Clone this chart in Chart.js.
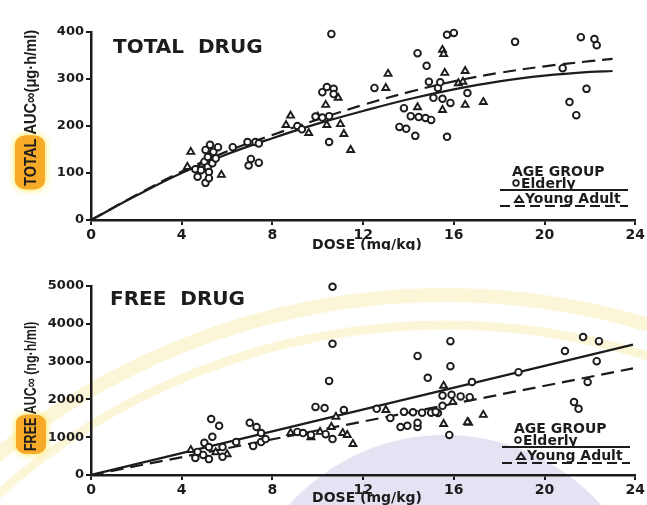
<!DOCTYPE html>
<html>
<head>
<meta charset="utf-8">
<title>Total and free drug AUC vs dose</title>
<script src="https://cdn.jsdelivr.net/npm/chart.js@4.4.0/dist/chart.umd.min.js"></script>
<style>
  html, body { margin: 0; padding: 0; background: #fff; }
  canvas { display: block; }
</style>
</head>
<body>
<canvas id="totalChart" width="647" height="250"></canvas>
<canvas id="freeChart" width="647" height="255"></canvas>
<script>
// ---- axis ticks ----
const doseTicks = [0, 4, 8, 12, 16, 20, 24];
const totalTicks = [0, 100, 200, 300, 400];
const freeTicks = [0, 1000, 2000, 3000, 4000, 5000];

// ---- TOTAL DRUG: observed points (dose mg/kg, AUC ug.h/ml) ----
const totalElderlyDose = [4.6, 4.7, 4.85, 5.0, 5.05, 5.05, 5.15, 5.15, 5.2, 5.2, 5.25, 5.35, 5.4, 5.5, 5.6,
  6.25, 6.9, 7.25, 7.4, 7.05, 7.4, 6.95,
  9.1, 9.3, 9.9, 10.2, 10.5, 10.2, 10.4, 10.7, 10.7, 10.6, 10.5,
  12.5, 13.6, 13.9, 13.8, 14.1, 14.45, 14.75, 15.0, 14.3, 14.4, 14.8, 14.9, 15.3, 15.1, 15.5, 15.85,
  15.7, 16.0, 15.7, 16.6, 15.4, 18.7, 21.6, 22.2, 22.3, 20.8, 21.85, 21.1, 21.4];
const totalElderlyAuc = [108, 92, 106, 124, 149, 79, 134, 113, 102, 89, 160, 121, 145, 131, 155,
  155, 166, 166, 163, 130, 122, 116,
  200, 193, 220, 218, 221, 272, 283, 279, 268, 396, 166,
  281, 198, 194, 238, 221, 219, 217, 213, 179, 355, 328, 294, 281, 260, 258, 249,
  394, 398, 177, 270, 293, 379, 389, 385, 372, 323, 279, 251, 223];

const totalYoungDose = [4.4, 4.25, 5.75, 4.9, 5.3,
  8.8, 8.6, 9.6, 10.35, 10.9, 10.4, 11.0, 11.15, 11.45, 10.0,
  13.1, 13.0, 14.4, 15.5, 15.55, 15.6, 16.5, 15.5, 16.5, 17.3, 16.2, 16.4];
const totalYoungAuc = [145, 113, 96, 118, 140,
  222, 202, 185, 245, 260, 202, 204, 183, 149, 220,
  311, 281, 240, 362, 353, 313, 317, 234, 245, 251, 291, 294];

// fitted curves
const totalFitDose = [0, 2, 4, 6, 8, 10, 12, 14, 16, 18, 20, 22, 23];
const totalFitElderly = [0, 52, 100, 140, 174, 205, 232, 257, 278, 295, 307, 315, 317];
const totalFitYoung = [0, 53, 103, 146, 181, 214, 245, 272, 295, 313, 327, 338, 343];

// ---- FREE DRUG: observed points (dose mg/kg, AUC ng.h/ml) ----
const freeElderlyDose = [5.3, 5.65, 5.35, 5.0, 5.2, 4.7, 4.95, 4.6, 5.2, 5.8, 5.8,
  7.0, 7.3, 7.5, 7.15, 6.4, 7.5, 7.7, 9.1, 9.35,
  9.9, 10.3, 10.65, 10.65, 10.5, 11.15, 9.7, 10.35, 10.65,
  12.6, 13.2, 13.8, 14.2, 14.6, 15.0, 15.3, 13.65, 13.95, 14.4, 14.4, 15.8,
  14.4, 15.85, 15.85, 14.85, 16.8, 15.5, 15.9, 16.3, 16.7, 15.5, 15.2,
  18.85, 20.9, 21.7, 22.4, 22.3, 21.9, 21.3, 21.5];
const freeElderlyAuc = [1480, 1300, 1010, 850, 740, 610, 530, 450, 420, 480, 740,
  1380, 1270, 1110, 770, 870, 870, 950, 1140, 1110,
  1800, 1770, 4980, 3470, 2490, 1720, 1060, 1080, 950,
  1750, 1510, 1670, 1660, 1650, 1650, 1640, 1270, 1300, 1270, 1380, 1060,
  3150, 3540, 2880, 2570, 2460, 2100, 2120, 2080, 2060, 1830, 1670,
  2720, 3280, 3650, 3540, 3010, 2460, 1930, 1750];

const freeYoungDose = [4.4, 5.5, 6.0, 8.8, 9.7, 10.1, 10.6, 10.8, 11.1, 11.3, 11.55,
  13.0, 15.55, 16.65, 15.55, 15.95, 16.6, 17.3];
const freeYoungAuc = [660, 600, 550, 1110, 1000, 1140, 1270, 1540, 1110, 1060, 820,
  1720, 1350, 1380, 2360, 1930, 1400, 1590];

const freeFitDose = [0, 23.9];
const freeFitElderly = [0, 3450];
const freeFitYoung = [0, 2820];

// ---- helpers ----
const INK = '#1c1c1c';
const pts = (xs, ys) => xs.map((x, i) => ({ x, y: ys[i] }));

const decorPlugin = {
  id: 'decor',
  beforeDraw(chart, args, o) {
    if (!o.watermark) return;
    // faint logo watermark behind the lower panel
    const ctx = chart.ctx;
    ctx.save();
    ctx.fillStyle = 'rgba(200,200,232,0.5)';
    ctx.beginPath();
    ctx.arc(445, 394, 209, 0, Math.PI * 2);
    ctx.fill();
    ctx.strokeStyle = 'rgba(248,234,170,0.45)';
    ctx.lineWidth = 14;
    ctx.beginPath();
    ctx.arc(445, 750, 705, Math.PI, Math.PI * 2);
    ctx.stroke();
    ctx.lineWidth = 9;
    ctx.beginPath();
    ctx.arc(445, 750, 675, Math.PI, Math.PI * 2);
    ctx.stroke();
    ctx.restore();
  },
  afterDraw(chart, args, o) {
    const ctx = chart.ctx;
    ctx.save();
    ctx.fillStyle = INK;
    ctx.textBaseline = 'alphabetic';

    // panel title
    ctx.font = 'bold 20px "DejaVu Sans"';
    ctx.textAlign = 'left';
    ctx.fillText(o.title, o.titleX, o.titleY);

    // x axis title
    ctx.font = 'bold 14px "DejaVu Sans"';
    ctx.textAlign = 'center';
    ctx.fillText('DOSE (mg/kg)', 367, o.doseY);

    // y axis title, condensed, with highlighted first word
    ctx.save();
    ctx.translate(o.yTitleX, o.yTitleBottom);
    ctx.rotate(-Math.PI / 2);
    ctx.scale(o.yTitleSquash, 1);
    ctx.font = 'bold ' + o.yTitleSize + 'px "Liberation Sans"';
    ctx.textAlign = 'left';
    ctx.textBaseline = 'middle';
    const w = ctx.measureText(o.yWord).width;
    ctx.save();
    ctx.shadowColor = '#ffe53a';
    ctx.shadowBlur = 7;
    ctx.fillStyle = '#f7a928';
    ctx.beginPath();
    ctx.roundRect(-4, -15, w + 8, 30, 11);
    ctx.fill();
    ctx.restore();
    ctx.fillText(o.yWord + ' ' + o.yRest, 0, 1);
    ctx.restore();

    // legend
    const L = o.legend;
    ctx.font = 'bold 14px "DejaVu Sans"';
    ctx.textAlign = 'left';
    ctx.fillText('AGE GROUP', L.x + 12, L.y);
    ctx.lineWidth = 1.8;
    ctx.strokeStyle = INK;
    ctx.beginPath();
    ctx.arc(L.x + 16, L.y + 7, 2.8, 0, Math.PI * 2);
    ctx.stroke();
    ctx.fillText('Elderly', L.x + 21, L.y + 12);
    ctx.lineWidth = 2;
    ctx.beginPath();
    ctx.moveTo(L.x, L.y + 14);
    ctx.lineTo(L.x + 128, L.y + 14);
    ctx.stroke();
    ctx.beginPath();
    ctx.moveTo(L.x + 19, L.y + 20);
    ctx.lineTo(L.x + 23, L.y + 26);
    ctx.lineTo(L.x + 15, L.y + 26);
    ctx.closePath();
    ctx.stroke();
    ctx.fillText('Young Adult', L.x + 25, L.y + 27);
    ctx.setLineDash([10, 5]);
    ctx.beginPath();
    ctx.moveTo(L.x, L.y + 30);
    ctx.lineTo(L.x + 128, L.y + 30);
    ctx.stroke();
    ctx.restore();
  }
};

function fixedTicks(values) {
  return (scale) => { scale.ticks = values.map((v) => ({ value: v })); };
}

function makeChart(canvasId, cfg) {
  return new Chart(document.getElementById(canvasId), {
    type: 'scatter',
    data: {
      datasets: [
        { label: 'Elderly', data: pts(cfg.eDose, cfg.eAuc), pointStyle: 'circle', pointRadius: 3.3,
          pointBorderWidth: 1.9, borderColor: INK, backgroundColor: '#fff', clip: false },
        { label: 'Young Adult', data: pts(cfg.yDose, cfg.yAuc), pointStyle: 'triangle', pointRadius: 4,
          pointBorderWidth: 1.9, borderColor: INK, backgroundColor: '#fff', clip: false },
        { label: 'Elderly fit', data: pts(cfg.fitDose, cfg.fitE), showLine: true, pointRadius: 0,
          borderColor: INK, borderWidth: 2.2, tension: cfg.tension, fill: false },
        { label: 'Young fit', data: pts(cfg.fitDose, cfg.fitY), showLine: true, pointRadius: 0,
          borderColor: INK, borderWidth: 2.2, borderDash: [13, 7], tension: cfg.tension, fill: false },
      ],
    },
    options: {
      responsive: false,
      animation: false,
      layout: { padding: { top: cfg.padTop, right: 11, left: 0, bottom: 0 } },
      plugins: {
        legend: { display: false },
        tooltip: { enabled: false },
        decor: cfg.decor,
      },
      scales: {
        x: {
          type: 'linear', min: 0, max: 24,
          afterBuildTicks: fixedTicks(doseTicks),
          afterFit: (s) => { s.height = 30; },
          border: { color: INK, width: 2.5 },
          grid: { drawOnChartArea: false, drawTicks: true, tickLength: 5, color: INK, lineWidth: 2 },
          ticks: { color: INK, padding: 2, callback: (v) => String(v),
                   font: { family: 'DejaVu Sans', weight: 'bold', size: 14 } },
        },
        y: {
          type: 'linear', min: 0, max: cfg.yMax,
          afterBuildTicks: fixedTicks(cfg.yTicks),
          afterFit: (s) => { s.width = 91; },
          border: { color: INK, width: 2.5 },
          grid: { drawOnChartArea: false, drawTicks: true, tickLength: 5, color: INK, lineWidth: 2 },
          ticks: { color: INK, padding: 2, callback: (v) => String(v),
                   font: { family: 'DejaVu Sans', weight: 'bold', size: 13 } },
        },
      },
    },
    plugins: [decorPlugin],
  });
}

makeChart('totalChart', {
  eDose: totalElderlyDose, eAuc: totalElderlyAuc, yDose: totalYoungDose, yAuc: totalYoungAuc,
  fitDose: totalFitDose, fitE: totalFitElderly, fitY: totalFitYoung, tension: 0.4,
  yMax: 400, yTicks: totalTicks, padTop: 32,
  decor: {
    title: 'TOTAL  DRUG', titleX: 113, titleY: 53, doseY: 249,
    yTitleX: 30, yTitleBottom: 186, yTitleSize: 17, yTitleSquash: 0.86,
    yWord: 'TOTAL', yRest: 'AUC\u221E(\u03BCg\u00B7h/ml)',
    legend: { x: 500, y: 176 },
  },
});

makeChart('freeChart', {
  eDose: freeElderlyDose, eAuc: freeElderlyAuc, yDose: freeYoungDose, yAuc: freeYoungAuc,
  fitDose: freeFitDose, fitE: freeFitElderly, fitY: freeFitYoung, tension: 0,
  yMax: 5000, yTicks: freeTicks, padTop: 36,
  decor: {
    title: 'FREE  DRUG', titleX: 110, titleY: 55, doseY: 252, watermark: true,
    yTitleX: 31, yTitleBottom: 201, yTitleSize: 16, yTitleSquash: 0.78,
    yWord: 'FREE', yRest: 'AUC\u221E (ng\u00B7h/ml)',
    legend: { x: 502, y: 183 },
  },
});
</script>
</body>
</html>
